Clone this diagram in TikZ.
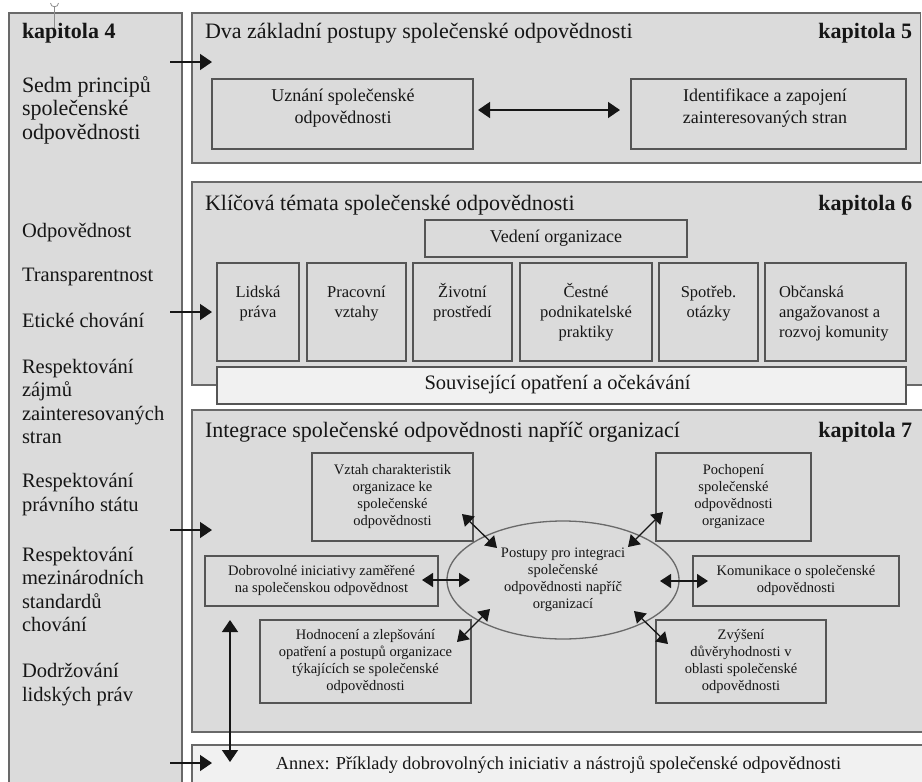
\documentclass[tikz,border=0pt]{standalone}
\usepackage{fontspec}
\setmainfont{Liberation Serif}
\usetikzlibrary{arrows.meta,shapes.geometric}
\definecolor{panelfill}{RGB}{219,219,219}
\definecolor{lightfill}{RGB}{241,241,241}
\definecolor{paneledge}{RGB}{105,105,105}
\definecolor{boxedge}{RGB}{85,85,85}
\definecolor{ink}{RGB}{22,22,22}
\definecolor{cursorgray}{RGB}{140,140,140}
\newcommand\myfs[2]{\fontsize{#1}{#2}\selectfont}
\tikzset{
 panel/.style={draw=paneledge, fill=panelfill, line width=1.5pt, inner sep=0pt, outer sep=0pt},
 lightpanel/.style={panel, fill=lightfill},
 ibox/.style={draw=boxedge, fill=panelfill, line width=1.3pt, inner sep=0pt, outer sep=0pt, align=center, text=ink},
 txt/.style={text=ink, inner sep=0pt, outer sep=0pt},
 fleft/.style={txt, font=\myfs{20.5}{23.5}, align=left},
 ftitle/.style={txt, font=\myfs{22}{25.3}},
 fhead/.style={txt, font=\bfseries\myfs{22}{25.3}},
 fmid/.style={txt, font=\myfs{18}{22}, align=center},
 ftopic/.style={txt, font=\myfs{16.5}{20}, align=center},
 fsmall/.style={font=\myfs{14.5}{17}},
 arr/.style={draw=ink, line width=1.5pt, -{Triangle[length=12pt,width=16pt]}},
 darr/.style={draw=ink, line width=1.5pt, {Triangle[length=12pt,width=16pt]}-{Triangle[length=12pt,width=16pt]}},
 sarr/.style={draw=ink, line width=1.3pt, {Triangle[length=11pt,width=14pt]}-{Triangle[length=11pt,width=14pt]}},
}
\begin{document}
\begin{tikzpicture}[x=1pt,y=-1pt]
\useasboundingbox (0,0) rectangle (922,782);
\clip (0,0) rectangle (922,782);
\fill[white] (0,0) rectangle (922,782);

% panels
\node[panel, minimum width=173pt, minimum height=786pt] (col4) at (95.5,406) {};
\node[panel, minimum width=728.5pt, minimum height=150pt] (ch5) at (556.25,88) {};
\node[panel, minimum width=736pt, minimum height=203pt] (ch6) at (560,283.5) {};
\node[panel, minimum width=736pt, minimum height=322pt] (ch7) at (560,571) {};
\node[lightpanel, minimum width=736pt, minimum height=50pt] (annex) at (560,770) {};

% cursor mark
\draw[cursorgray, line width=0.8pt] (54.5,7) -- (54.5,32);
\draw[cursorgray, line width=0.8pt] (50.5,3) .. controls (50.5,8) and (58.5,8) .. (58.5,3);

% left column texts
\node[fhead, anchor=west] (k4) at (22,33) {\strut kapitola 4};
\node[fleft, font=\myfs{22}{23.5}, anchor=west] (p0) at (22,111) {\strut Sedm principů\\\strut společenské\\\strut odpovědnosti};
\node[fleft, anchor=west] (p1) at (22,233) {\strut Odpovědnost};
\node[fleft, anchor=west] (p2) at (22,277) {\strut Transparentnost};
\node[fleft, anchor=west] (p3) at (22,323) {\strut Etické chování};
\node[fleft, anchor=west] (p4) at (22,404) {\strut Respektování\\\strut zájmů\\\strut zainteresovaných\\\strut stran};
\node[fleft, anchor=west] (p5) at (22,495) {\strut Respektování\\\strut právního státu};
\node[fleft, anchor=west] (p6) at (22,592) {\strut Respektování\\\strut mezinárodních\\\strut standardů\\\strut chování};
\node[fleft, anchor=west] (p7) at (22,685) {\strut Dodržování\\\strut lidských práv};

% chapter titles
\node[ftitle, anchor=west] (t5) at (205,33) {\strut Dva základní postupy společenské odpovědnosti};
\node[fhead, anchor=east] (k5) at (912,33) {\strut kapitola 5};
\node[ftitle, anchor=west] (t6) at (205,205) {\strut Klíčová témata společenské odpovědnosti};
\node[fhead, anchor=east] (k6) at (912,205) {\strut kapitola 6};
\node[ftitle, anchor=west] (t7) at (205,432) {\strut Integrace společenské odpovědnosti napříč organizací};
\node[fhead, anchor=east] (k7) at (912,432) {\strut kapitola 7};

% chapter 5
\node[ibox, minimum width=261pt, minimum height=70pt] (uzn) at (342.5,114) {};
\node[fmid] (uznt) at (343,108) {\strut Uznání společenské\\\strut odpovědnosti};
\node[ibox, minimum width=275pt, minimum height=70pt] (ident) at (768.5,114) {};
\node[fmid] (identt) at (765,108) {\strut Identifikace a zapojení\\\strut zainteresovaných stran};

% chapter 6
\node[ibox, minimum width=262pt, minimum height=37pt, font=\myfs{18}{20.7}] (ved) at (556,238.5) {\strut Vedení organizace};
\node[ibox, minimum width=82pt, minimum height=98pt] (lid) at (258,312) {};
\node[ibox, minimum width=99pt, minimum height=98pt] (pra) at (356.5,312) {};
\node[ibox, minimum width=99pt, minimum height=98pt] (ziv) at (462.5,312) {};
\node[ibox, minimum width=132pt, minimum height=98pt] (ces) at (586,312) {};
\node[ibox, minimum width=99pt, minimum height=98pt] (spo) at (708.5,312) {};
\node[ibox, minimum width=141pt, minimum height=98pt] (obc) at (835.5,312) {};
\node[ftopic] (lidt) at (258,303) {\strut Lidská\\\strut práva};
\node[ftopic] (prat) at (356.5,303) {\strut Pracovní\\\strut vztahy};
\node[ftopic] (zivt) at (462.5,303) {\strut Životní\\\strut prostředí};
\node[ftopic] (cest) at (586,313) {\strut Čestné\\\strut podnikatelské\\\strut praktiky};
\node[ftopic] (spot) at (708.5,303) {\strut Spotřeb.\\\strut otázky};
\node[ftopic, align=left, anchor=west] (obct) at (779,313) {\strut Občanská\\\strut angažovanost a\\\strut rozvoj komunity};
\node[ibox, fill=lightfill, minimum width=689pt, minimum height=37pt] (souv) at (561.5,385.5) {};
\node[txt, font=\myfs{20.5}{23.5}] (souvt) at (557.5,385) {\strut Související opatření a očekávání};

% chapter 7
\node[ibox, fsmall, minimum width=161pt, minimum height=88pt] (vzt) at (392.5,497) {\strut Vztah charakteristik\\\strut organizace ke\\\strut společenské\\\strut odpovědnosti};
\node[ibox, fsmall, minimum width=155pt, minimum height=88pt] (poc) at (733.5,497) {\strut Pochopení\\\strut společenské\\\strut odpovědnosti\\\strut organizace};
\node[ibox, fsmall, minimum width=233pt, minimum height=50pt] (dob) at (321.5,581) {\strut Dobrovolné iniciativy zaměřené\\\strut na společenskou odpovědnost};
\node[ibox, fsmall, minimum width=206pt, minimum height=50pt] (kom) at (796,581) {\strut Komunikace o společenské\\\strut odpovědnosti};
\node[ibox, fsmall, minimum width=211pt, minimum height=83pt] (hod) at (365.5,661.5) {\strut Hodnocení a zlepšování\\\strut opatření a postupů organizace\\\strut týkajících se společenské\\\strut odpovědnosti};
\node[ibox, fsmall, minimum width=170pt, minimum height=83pt] (zvy) at (741,661.5) {\strut Zvýšení\\\strut důvěryhodnosti v\\\strut oblasti společenské\\\strut odpovědnosti};
\node[ibox, fsmall, ellipse, draw=paneledge, minimum width=232pt, minimum height=118pt] (ell) at (563,580) {\strut Postupy pro integraci\\\strut společenské\\\strut odpovědnosti napříč\\\strut organizací};

% annex text
\node[txt, font=\myfs{18.3}{21}] (annext) at (558.5,765) {\strut Annex: Příklady dobrovolných iniciativ a nástrojů společenské odpovědnosti};

% arrow end points
\coordinate (a5s) at (170,62);  \coordinate (a5e) at (212,62);
\coordinate (a6s) at (170,312); \coordinate (a6e) at (212,312);
\coordinate (a7s) at (170,530); \coordinate (a7e) at (212,530);
\coordinate (axs) at (170,763); \coordinate (axe) at (212,763);
\coordinate (c5a) at (478,110); \coordinate (c5b) at (620,110);
\coordinate (vA) at (462,514); \coordinate (vB) at (497,548);
\coordinate (pA) at (663,512); \coordinate (pB) at (628,547);
\coordinate (dA) at (422,580); \coordinate (dB) at (470,580);
\coordinate (kA) at (708,581); \coordinate (kB) at (660,581);
\coordinate (hA) at (457,642); \coordinate (hB) at (490,609);
\coordinate (zA) at (668,644); \coordinate (zB) at (634,611);
\coordinate (uA) at (230,620); \coordinate (uB) at (230,762);

% arrows
\draw[arr] (a5s) -- (a5e);
\draw[arr] (a6s) -- (a6e);
\draw[arr] (a7s) -- (a7e);
\draw[arr] (axs) -- (axe);
\draw[darr] (c5a) -- (c5b);
\draw[sarr] (vA) -- (vB);
\draw[sarr] (pA) -- (pB);
\draw[sarr] (dA) -- (dB);
\draw[sarr] (kA) -- (kB);
\draw[sarr] (hA) -- (hB);
\draw[sarr] (zA) -- (zB);
\draw[darr] (uA) -- (uB);
\end{tikzpicture}
\end{document}
